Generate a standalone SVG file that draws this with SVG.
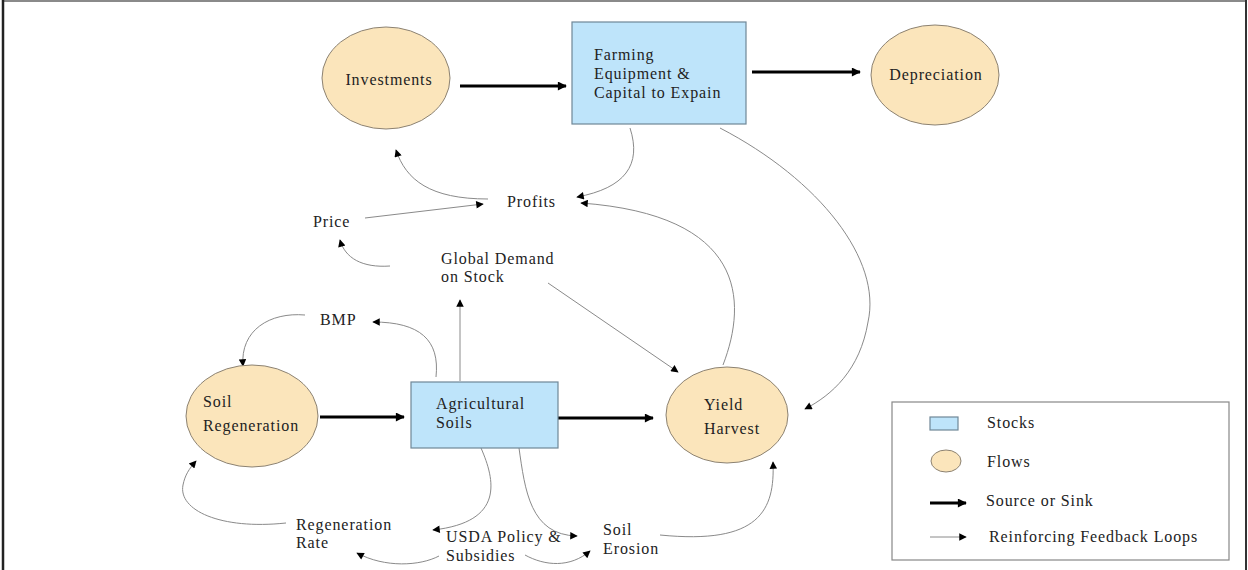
<svg xmlns="http://www.w3.org/2000/svg" width="1248" height="570" viewBox="0 0 1248 570">
  <style>
    text { font-family: "Liberation Serif", "Times New Roman", serif; font-size: 16px; letter-spacing: 0.9px; fill: #222; }
    .flow { fill: #fbe5bb; stroke: #8c8272; stroke-width: 1; }
    .stock { fill: #bee4fa; stroke: #6f8797; stroke-width: 1.2; }
    .thick { stroke: #000; stroke-width: 3; fill: none; marker-end: url(#headBig); }
    .thin { stroke: #8a8a8a; stroke-width: 1; fill: none; marker-end: url(#headSmall); }
  </style>
  <defs>
    <marker id="headBig" viewBox="0 0 10 10" refX="9" refY="5" markerWidth="3.6" markerHeight="3" orient="auto" markerUnits="strokeWidth">
      <path d="M0,0 L10,5 L0,10 z" fill="#000"/>
    </marker>
    <marker id="headSmall" viewBox="0 0 10 10" refX="9" refY="5" markerWidth="10" markerHeight="7.5" orient="auto" markerUnits="userSpaceOnUse">
      <path d="M0,0 L10,5 L0,10 z" fill="#000"/>
    </marker>
  </defs>

  <rect width="1248" height="570" fill="#fff"/>
  <!-- outer frame -->
  <line x1="3" y1="1" x2="1246" y2="1" stroke="#8a8a8a" stroke-width="2"/>
  <line x1="3" y1="0" x2="3" y2="570" stroke="#222" stroke-width="2.5"/>
  <line x1="1246" y1="0" x2="1246" y2="570" stroke="#333" stroke-width="2"/>

  <!-- connectors -->
  <g id="connectors">
    <!-- sources and sinks -->
    <line class="thick" x1="460" y1="86" x2="566" y2="86"/>
    <line class="thick" x1="752" y1="72" x2="860" y2="72"/>
    <line class="thick" x1="320" y1="417" x2="404" y2="417"/>
    <line class="thick" x1="558" y1="418" x2="653" y2="418"/>

    <!-- feedback loops -->
    <path class="thin" d="M488,199 C430,199 406,180 396,150"/>
    <path class="thin" d="M365,218 L483,204"/>
    <path class="thin" d="M390,266 C362,268 345,258 340,240"/>
    <path class="thin" d="M630,128 C642,165 625,188 577,197"/>
    <path class="thin" d="M723,365 C748,300 745,215 581,203"/>
    <path class="thin" d="M720,128 C820,180 882,260 868,322 C860,370 832,395 805,409"/>
    <path class="thin" d="M548,283 L678,372"/>
    <path class="thin" d="M436,377 C440,340 420,322 373,322"/>
    <path class="thin" d="M305,315 C270,312 240,330 243,366"/>
    <path class="thin" d="M460,381 L460,300"/>
    <path class="thin" d="M286,523 C220,530 178,510 183,485 C185,475 189,469 196,461"/>
    <path class="thin" d="M481,448 C495,480 505,522 433,530"/>
    <path class="thin" d="M519,448 C525,490 530,535 577,536"/>
    <path class="thin" d="M439,556 C420,566 385,568 357,553"/>
    <path class="thin" d="M525,555 C545,566 570,568 590,551"/>
    <path class="thin" d="M660,535 C760,545 775,510 773,462"/>
  </g>

  <g id="investments">
    <ellipse class="flow" cx="386" cy="78" rx="64" ry="51"/>
    <text x="389" y="85" text-anchor="middle">Investments</text>
  </g>

  <g id="farming-equipment">
    <rect class="stock" x="572" y="22" width="174" height="102"/>
    <text x="594" y="60">Farming</text>
    <text x="594" y="79">Equipment &amp;</text>
    <text x="594" y="98">Capital to Expain</text>
  </g>

  <g id="depreciation">
    <ellipse class="flow" cx="935" cy="75" rx="64" ry="50"/>
    <text x="936" y="80" text-anchor="middle">Depreciation</text>
  </g>

  <g id="profits">
    <text x="507" y="207">Profits</text>
  </g>

  <g id="price">
    <text x="313" y="227">Price</text>
  </g>

  <g id="global-demand">
    <text x="441" y="264">Global Demand</text>
    <text x="441" y="282">on Stock</text>
  </g>

  <g id="bmp">
    <text x="320" y="325">BMP</text>
  </g>

  <g id="soil-regeneration">
    <ellipse class="flow" cx="252" cy="416" rx="66" ry="51"/>
    <text x="203" y="407">Soil</text>
    <text x="203" y="431">Regeneration</text>
  </g>

  <g id="agricultural-soils">
    <rect class="stock" x="411" y="382" width="147" height="66"/>
    <text x="436" y="409">Agricultural</text>
    <text x="436" y="428">Soils</text>
  </g>

  <g id="yield-harvest">
    <ellipse class="flow" cx="727" cy="415" rx="61" ry="48"/>
    <text x="704" y="410">Yield</text>
    <text x="704" y="434">Harvest</text>
  </g>

  <g id="regeneration-rate">
    <text x="296" y="530">Regeneration</text>
    <text x="296" y="548">Rate</text>
  </g>

  <g id="usda-policy">
    <text x="446" y="542">USDA Policy &amp;</text>
    <text x="446" y="561">Subsidies</text>
  </g>

  <g id="soil-erosion">
    <text x="603" y="535">Soil</text>
    <text x="603" y="554">Erosion</text>
  </g>

  <g id="legend">
    <rect x="892" y="402" width="337" height="158" fill="#fff" stroke="#888" stroke-width="1.2"/>
    <rect class="stock" x="930" y="417" width="28" height="13"/>
    <text x="987" y="428">Stocks</text>
    <ellipse class="flow" cx="946" cy="461" rx="15" ry="11"/>
    <text x="987" y="467">Flows</text>
    <line class="thick" x1="930" y1="503" x2="966" y2="503"/>
    <text x="986" y="506">Source or Sink</text>
    <line class="thin" x1="930" y1="537" x2="966" y2="537"/>
    <text x="989" y="542">Reinforcing Feedback Loops</text>
  </g>
</svg>
